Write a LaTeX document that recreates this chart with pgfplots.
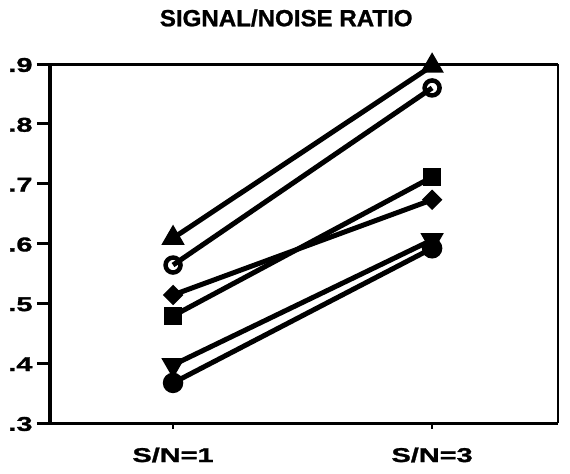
\documentclass[border=0pt]{standalone}
\usepackage{pgfplots}
\pgfplotsset{compat=1.18}
\usepackage{fontspec}
\setmainfont{Liberation Sans}
\newfontfamily\widefont{Liberation Sans}[FakeStretch=1.45, FakeBold=1.5]
\newfontfamily\titlefont{Liberation Sans}[FakeStretch=1.03, FakeBold=1]
\begin{document}
\begin{tikzpicture}
\begin{axis}[
  at={(0,0)}, anchor=south west,
  scale only axis, width=508bp, height=359bp,
  xmin=-0.475, xmax=1.486, ymin=0.3, ymax=0.9,
  clip=false,
  axis line style={draw=none},
  xtick={0,1}, xticklabels={S/N=1,S/N=3},
  ytick={0.3,0.4,0.5,0.6,0.7,0.8,0.9},
  yticklabels={.3,.4,.5,.6,.7,.8,.9},
  xtick pos=bottom, ytick pos=left,
  /pgf/number format/assume math mode=true,
  tick align=outside,
  major tick length=13bp,
  xtick style={draw=none},
  ytick style={line width=3bp, black},
  yticklabel style={font=\widefont\bfseries\fontsize{20}{20}\selectfont, anchor=east, xshift=-1bp, yshift=-1bp},
  xticklabel style={font=\widefont\bfseries\fontsize{20}{20}\selectfont, anchor=base, yshift=-26bp},
  title={SIGNAL/NOISE RATIO},
  title style={font=\titlefont\bfseries\fontsize{23.5}{23.5}\selectfont, at={(rel axis cs:0.465,1)}, anchor=center, yshift=40bp},
  every axis plot/.append style={black, line width=5bp},
  after end axis/.code={
    \draw[line width=3.5bp] (rel axis cs:0,0) -- (rel axis cs:0,1);
    \draw[line width=3bp] ([xshift=-13bp]rel axis cs:0,1) -- (rel axis cs:1,1);
    \draw[line width=3bp] ([xshift=-13bp]rel axis cs:0,0) -- (rel axis cs:1,0);
    \draw[line width=1.5bp] (rel axis cs:1,0) -- (rel axis cs:1,1);
    \draw[line width=1.5bp] (axis cs:0,0.3) -- ++(0,-6bp);
    \draw[line width=1.5bp] (axis cs:1,0.3) -- ++(0,-6bp);
  },
]
\addplot[mark=triangle*, mark size=12bp, mark options={fill=black, line width=1.5bp}] coordinates {(0,0.609) (1,0.897)};
\addplot[mark=o, mark size=7.5bp, mark options={line width=4.5bp}] coordinates {(0,0.564) (1,0.860)};
\addplot[mark=square*, mark size=6.5bp, mark options={fill=black, line width=1.5bp, rotate=45}] coordinates {(0,0.514) (1,0.673)};
\addplot[mark=square*, mark size=8.5bp, mark options={fill=black, line width=1.5bp}] coordinates {(0,0.479) (1,0.711)};
\addplot[mark=triangle*, mark size=12bp, mark options={fill=black, line width=1.5bp, rotate=180}] coordinates {(0,0.397) (1,0.606)};
\addplot[mark=*, mark size=9.5bp, mark options={fill=black, line width=1.5bp}] coordinates {(0,0.367) (1,0.592)};
\end{axis}
\pgfresetboundingbox
\useasboundingbox (-50bp,-51bp) rectangle (520bp,423bp);
\end{tikzpicture}
\end{document}
